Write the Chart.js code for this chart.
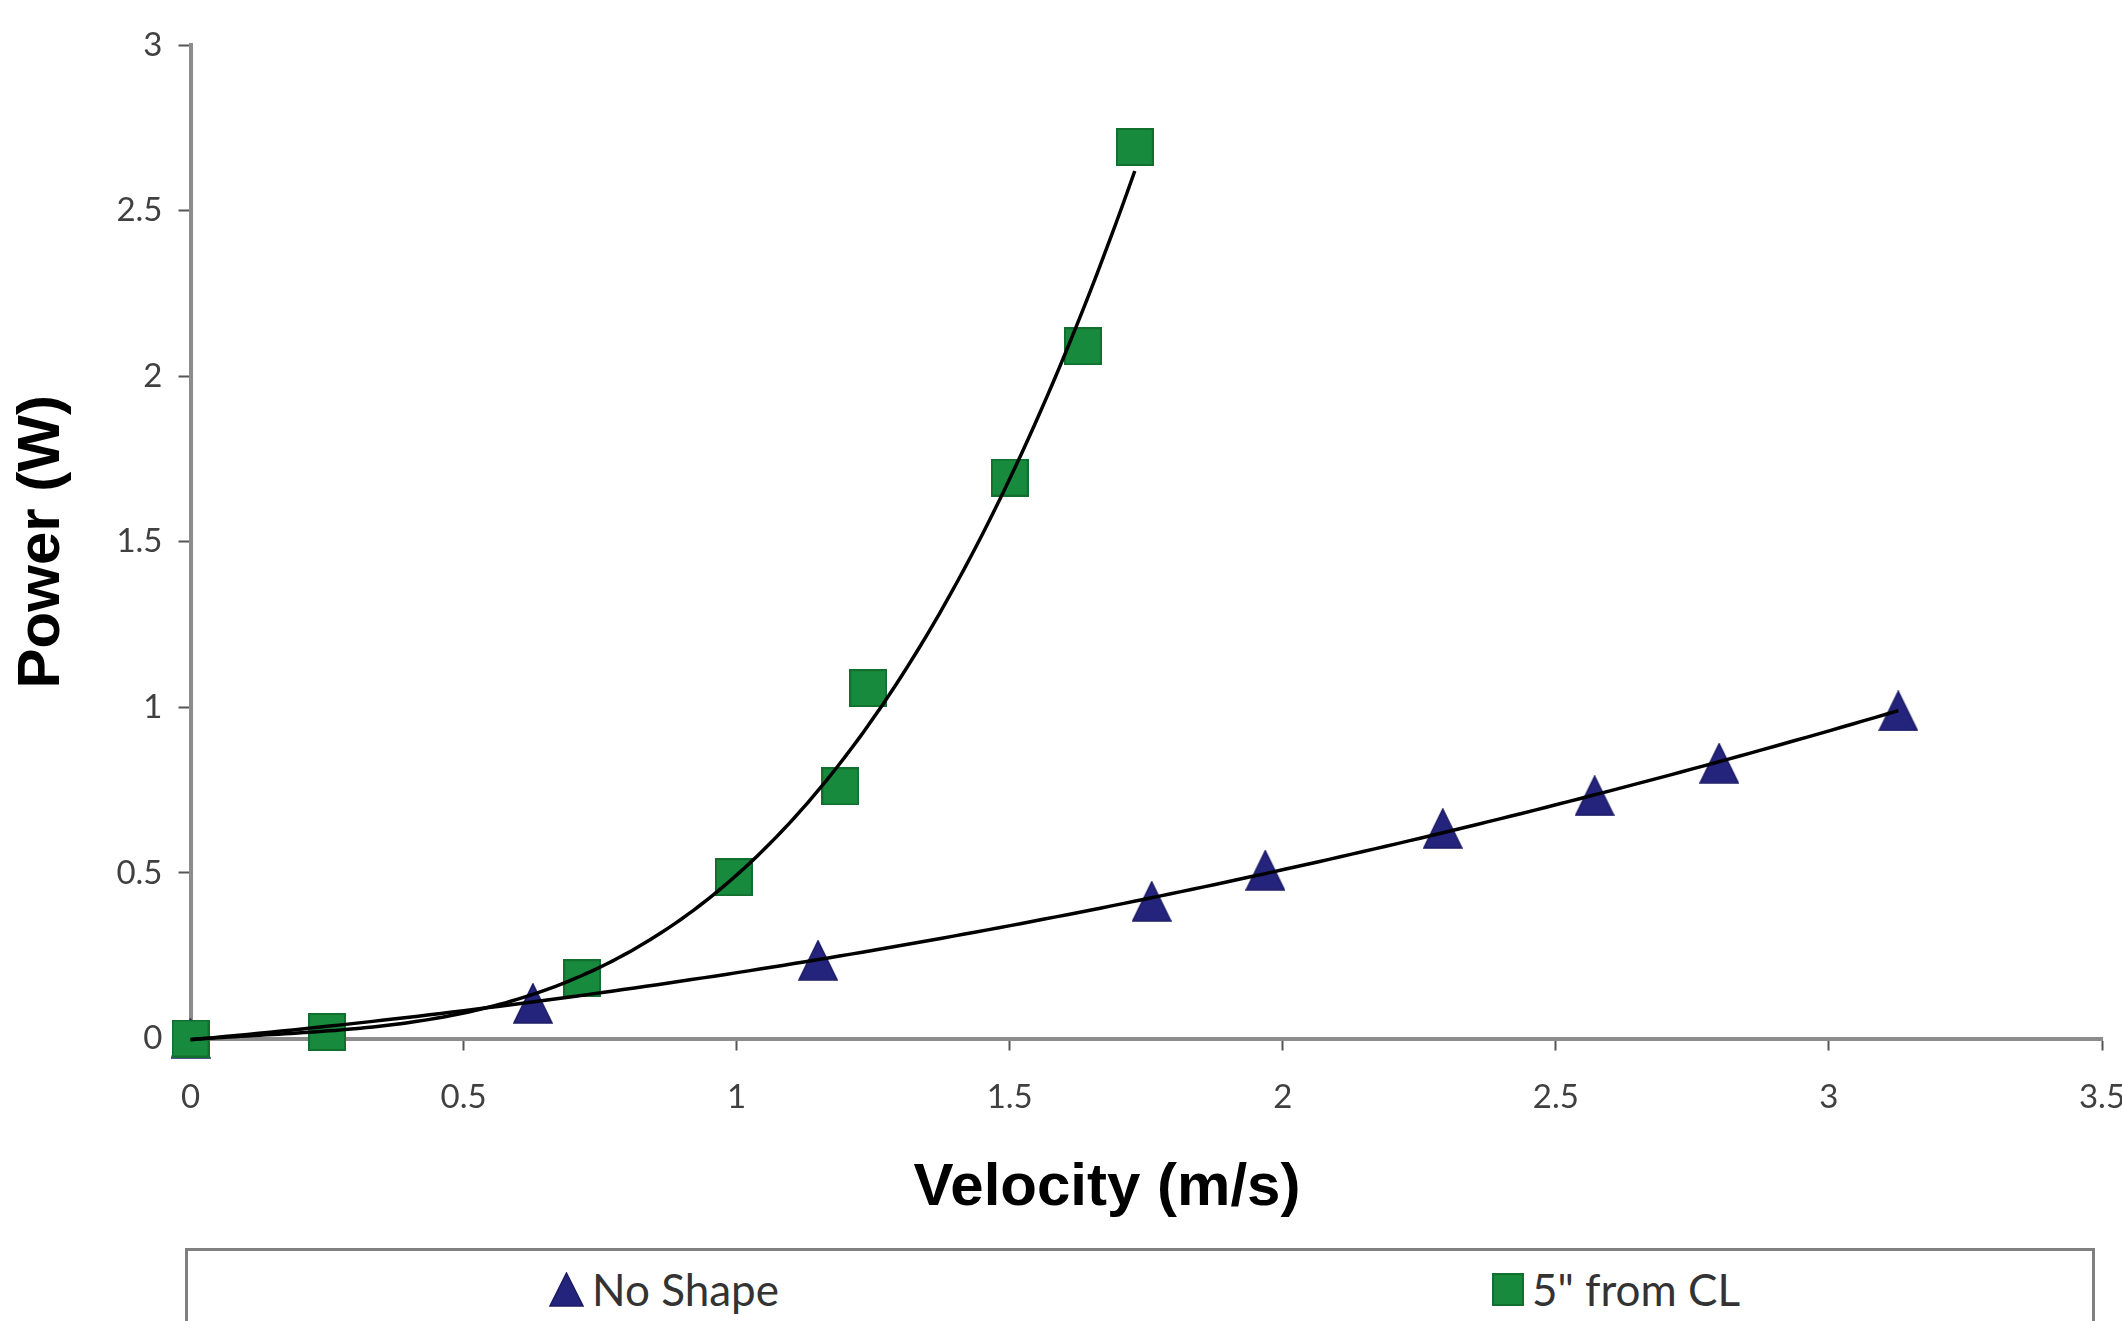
<!DOCTYPE html>
<html><head><meta charset="utf-8">
<script src="https://cdn.jsdelivr.net/npm/chart.js@4.4.1/dist/chart.umd.min.js"></script>
<style>
html,body{margin:0;padding:0;background:#fff;overflow:hidden;width:2122px;height:1321px;}
#wrap{position:relative;width:2160px;height:1321px;}
#c{position:absolute;left:0;top:0;}
#xtitle{position:absolute;left:1107px;top:1155px;transform:translateX(-50%);font:bold 60px 'Liberation Sans',Arial,sans-serif;line-height:60px;white-space:nowrap;color:#000;}
#legend{position:absolute;left:185px;top:1248px;width:1910px;height:130px;box-sizing:border-box;border:3px solid #808080;display:flex;padding-top:12px;background:#fff;}
.item{flex:1;display:flex;justify-content:center;align-items:center;height:53px;}
.item span{font:44px Lato,sans-serif;color:#333;line-height:53px;margin-left:8px;white-space:nowrap}
</style></head>
<body><div id="wrap"><canvas id="c" width="2160" height="1321"></canvas><div id="xtitle"></div><div id="legend"></div></div>
<script>
// ---- data ----
const xAxisTitle = 'Velocity (m/s)';
const yAxisTitle = 'Power (W)';
const seriesNames = ['No Shape', '5" from CL'];
const noShapeVelocity = [0, 0.627, 1.149, 1.760, 1.968, 2.293, 2.571, 2.799, 3.127];
const noShapePower    = [0, 0.106, 0.236, 0.414, 0.508, 0.634, 0.733, 0.831, 0.989];
const fromCLVelocity  = [0, 0.25, 0.717, 0.995, 1.19, 1.241, 1.50, 1.634, 1.729];
const fromCLPower     = [0, 0.02, 0.182, 0.487, 0.761, 1.058, 1.694, 2.09, 2.692];
const xTickLabels = ['0','0.5','1','1.5','2','2.5','3','3.5'];
const yTickLabels = ['0','0.5','1','1.5','2','2.5','3'];
const trendOrders = [2, 3]; // polynomial trendline orders (No Shape, 5" from CL)

// ---- least-squares polynomial trendline ----
function polyfit(xs, ys, order){
  const n = order + 1;
  const A = [...Array(n)].map(() => Array(n + 1).fill(0));
  for (let k = 0; k < xs.length; k++) {
    for (let i = 0; i < n; i++) {
      for (let j = 0; j < n; j++) A[i][j] += Math.pow(xs[k], i + j);
      A[i][n] += ys[k] * Math.pow(xs[k], i);
    }
  }
  for (let i = 0; i < n; i++) {
    let p = i;
    for (let r = i + 1; r < n; r++) if (Math.abs(A[r][i]) > Math.abs(A[p][i])) p = r;
    [A[i], A[p]] = [A[p], A[i]];
    for (let r = 0; r < n; r++) {
      if (r === i) continue;
      const f = A[r][i] / A[i][i];
      for (let c = i; c <= n; c++) A[r][c] -= f * A[i][c];
    }
  }
  return A.map((row, i) => row[n] / row[i]);
}
function trend(xs, ys, order){
  const co = polyfit(xs, ys, order);
  const x0 = Math.min(...xs), x1 = Math.max(...xs);
  const pts = [];
  const N = 150;
  for (let i = 0; i <= N; i++) {
    const x = x0 + (x1 - x0) * i / N;
    let y = 0;
    co.forEach((c, k) => { y += c * Math.pow(x, k); });
    pts.push({x, y});
  }
  return pts;
}
const toPts = (xs, ys) => xs.map((x, i) => ({x, y: ys[i]}));

// ---- marker images ----
function triImg(w, h){
  const c = document.createElement('canvas'); c.width = w; c.height = h;
  const g = c.getContext('2d');
  g.beginPath(); g.moveTo(w/2, 1); g.lineTo(w - 1, h - 1); g.lineTo(1, h - 1); g.closePath();
  g.fillStyle = '#24247c'; g.fill();
  g.strokeStyle = '#1b1b66'; g.lineWidth = 1.5; g.stroke();
  return c;
}
function sqImg(w, h){
  const c = document.createElement('canvas'); c.width = w; c.height = h;
  const g = c.getContext('2d');
  g.fillStyle = '#178a3e'; g.fillRect(0, 0, w, h);
  g.strokeStyle = '#12702f'; g.lineWidth = 2; g.strokeRect(1, 1, w - 2, h - 2);
  return c;
}
const markers = [triImg(40, 41), sqImg(38, 38)];
const legendMarkers = [triImg(35, 35), sqImg(32, 33)];

function draw(){
  document.getElementById('xtitle').textContent = xAxisTitle;
  const leg = document.getElementById('legend');
  seriesNames.forEach((name, i) => {
    const it = document.createElement('div'); it.className = 'item';
    it.appendChild(legendMarkers[i]);
    const s = document.createElement('span'); s.textContent = name;
    it.appendChild(s);
    leg.appendChild(it);
  });

  const tickFont = {family: 'Lato', size: 33};
  new Chart(document.getElementById('c'), {
    type: 'scatter',
    data: {
      datasets: [
        {label: seriesNames[0] + ' trend', type: 'line', data: trend(noShapeVelocity, noShapePower, trendOrders[0]),
         borderColor: '#000', borderWidth: 3.5, pointRadius: 0, fill: false, tension: 0, order: 0, clip: false},
        {label: seriesNames[1] + ' trend', type: 'line', data: trend(fromCLVelocity, fromCLPower, trendOrders[1]),
         borderColor: '#000', borderWidth: 3.5, pointRadius: 0, fill: false, tension: 0, order: 0, clip: false},
        {label: seriesNames[1], data: toPts(fromCLVelocity, fromCLPower), pointStyle: markers[1], pointRadius: 19, order: 1, clip: false},
        {label: seriesNames[0], data: toPts(noShapeVelocity, noShapePower), pointStyle: markers[0], pointRadius: 20, order: 2, clip: false}
      ]
    },
    options: {
      responsive: false, animation: false, devicePixelRatio: 1,
      layout: {padding: {left: 0, top: 45, right: 58, bottom: 202.5}},
      plugins: {legend: {display: false}, tooltip: {enabled: false}},
      scales: {
        x: {
          type: 'linear', min: 0, max: 3.5,
          afterFit: s => { s.height = 80; },
          ticks: {stepSize: 0.5, autoSkip: false, maxRotation: 0, padding: 27, color: '#404040', font: tickFont,
                  callback: (v, i) => xTickLabels[i]},
          grid: {drawOnChartArea: false, drawTicks: true, tickLength: 12, tickWidth: 2, tickColor: '#555'},
          border: {display: true, color: '#8c8c8c', width: 4}
        },
        y: {
          type: 'linear', min: 0, max: 3,
          afterFit: s => { s.width = 190.5; },
          ticks: {stepSize: 0.5, autoSkip: false, padding: 16, color: '#404040', font: tickFont,
                  callback: (v, i) => yTickLabels[i]},
          grid: {drawOnChartArea: false, drawTicks: true, tickLength: 12, tickWidth: 2, tickColor: '#555'},
          border: {display: true, color: '#8c8c8c', width: 4},
          title: {display: true, text: yAxisTitle, color: '#000',
                  font: {family: 'Liberation Sans', size: 60, weight: 'bold'}, padding: {top: 6, bottom: 0}}
        }
      }
    }
  });
}
if (document.fonts && document.fonts.load) {
  Promise.all([document.fonts.load('33px Lato'), document.fonts.load('bold 60px "Liberation Sans"')]).then(draw, draw);
} else draw();
</script>
</body></html>
